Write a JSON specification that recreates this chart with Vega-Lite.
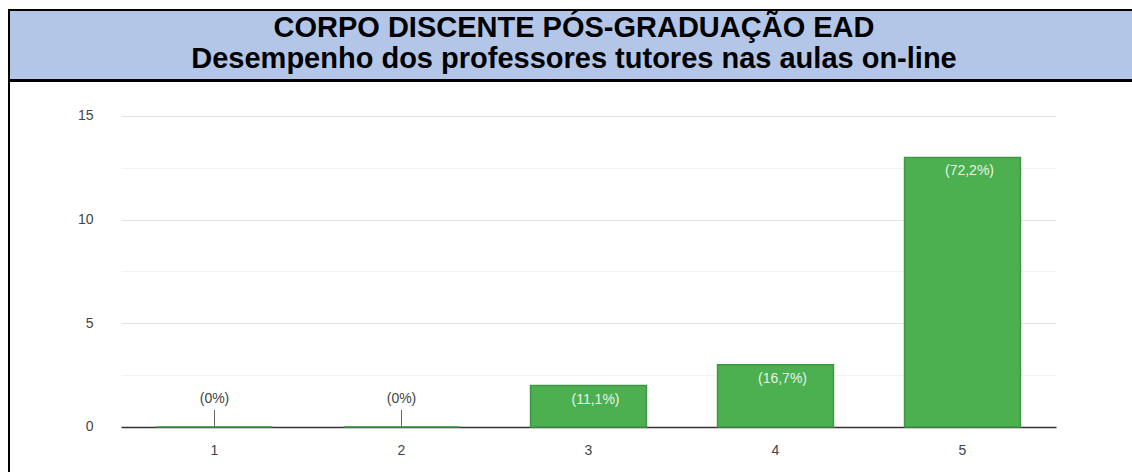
{
  "$schema": "https://vega.github.io/schema/vega-lite/v6.json",
  "padding": {"left": 8, "top": 9, "right": 0, "bottom": 0},
  "spacing": -2,
  "background": "white",
  "config": {
    "font": "Liberation Sans",
    "axis": {"labelFont": "Liberation Sans", "titleFont": "Liberation Sans"}
  },
  "vconcat": [
    {
      "width": 1160,
      "height": 70,
      "view": {"fill": "#b4c6e7", "stroke": "black", "strokeWidth": 2},
      "data": {"values": [{"t": "CORPO DISCENTE PÓS-GRADUAÇÃO EAD\nDesempenho dos professores tutores nas aulas on-line"}]},
      "mark": {"type": "text", "lineBreak": "\n", "fontSize": 29, "fontWeight": "bold", "lineHeight": 31, "color": "black", "baseline": "middle", "align": "center", "dy": -17, "dx": -15},
      "encoding": {"text": {"field": "t", "type": "nominal"}}
    },
    {
      "width": 1160,
      "height": 400,
      "view": {"stroke": "black", "strokeWidth": 2, "fill": "white"},
      "data": {"values": [
        {"nota": "1", "n": 0, "rotulo": "(0%)"},
        {"nota": "2", "n": 0, "rotulo": "(0%)"},
        {"nota": "3", "n": 2, "rotulo": "(11,1%)"},
        {"nota": "4", "n": 3, "rotulo": "(16,7%)"},
        {"nota": "5", "n": 13, "rotulo": "(72,2%)"}
      ]},
      "layer": [
        {
          "mark": {"type": "bar", "color": "#4caf50", "stroke": "#3f9743", "strokeWidth": 1.5},
          "encoding": {
            "x": {"field": "nota", "type": "nominal", "sort": null,
                  "scale": {"range": [112, 1047], "paddingInner": 0.38, "paddingOuter": 0.19},
                  "axis": {"title": null, "labelAngle": 0, "orient": "bottom", "offset": -54, "domain": true, "domainColor": "#333333", "domainWidth": 1.5, "ticks": false, "grid": false, "labelPadding": 16, "labelFontSize": 14, "labelColor": "#444444"}},
            "y": {"field": "n", "type": "quantitative",
                  "scale": {"domain": [-2.6045, 16.688], "nice": false, "zero": false},
                  "axis": {"title": null, "orient": "left", "offset": -112, "values": [0, 2.5, 5, 7.5, 10, 12.5, 15], "labelExpr": "datum.value % 5 === 0 ? datum.label : ''", "domain": false, "ticks": false, "grid": true, "gridColor": {"condition": {"test": "datum.value % 5 !== 0", "value": "#f3f3f3"}, "value": "#e4e4e4"}, "labelPadding": 28, "labelFontSize": 14, "labelColor": "#444444"}},
            "y2": {"datum": 0}
          }
        },
        {
          "transform": [{"filter": "datum.n > 0"}],
          "mark": {"type": "text", "color": "#e6f4e6", "fontSize": 14, "baseline": "middle", "align": "center", "dy": 14, "dx": 7},
          "encoding": {
            "x": {"field": "nota", "type": "nominal", "sort": null},
            "y": {"field": "n", "type": "quantitative"},
            "text": {"field": "rotulo", "type": "nominal"}
          }
        },
        {
          "transform": [{"filter": "datum.n === 0"}],
          "mark": {"type": "text", "color": "#444444", "fontSize": 14, "baseline": "middle", "align": "center", "dy": -28},
          "encoding": {
            "x": {"field": "nota", "type": "nominal", "sort": null},
            "y": {"field": "n", "type": "quantitative"},
            "text": {"field": "rotulo", "type": "nominal"}
          }
        },
        {
          "transform": [{"filter": "datum.n === 0"}],
          "mark": {"type": "rule", "color": "#666666", "strokeWidth": 1, "y2Offset": -17},
          "encoding": {
            "x": {"field": "nota", "type": "nominal", "sort": null},
            "y": {"field": "n", "type": "quantitative"},
            "y2": {"field": "n"}
          }
        }
      ]
    }
  ]
}
